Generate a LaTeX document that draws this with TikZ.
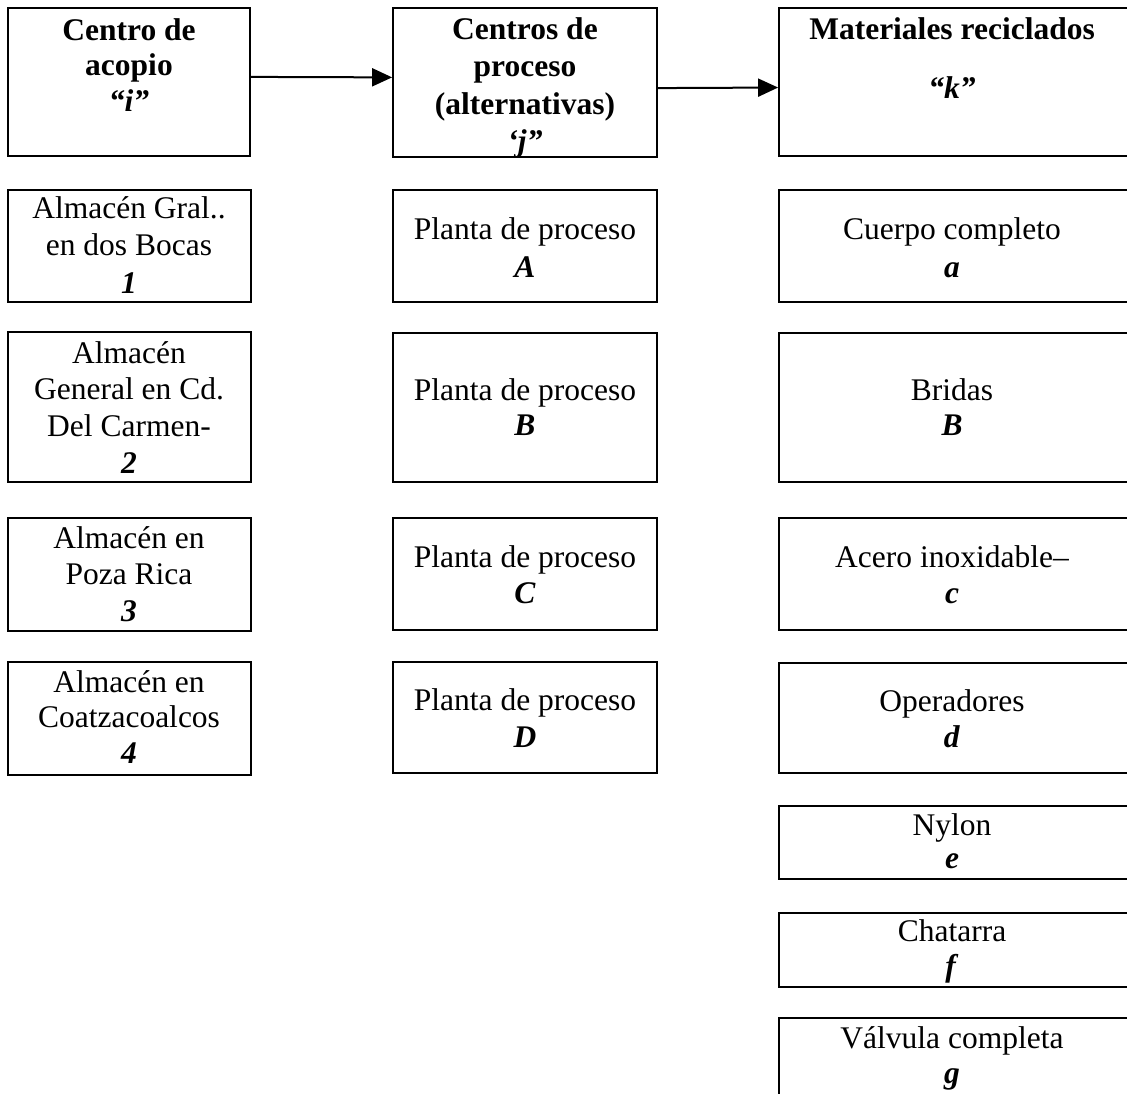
\documentclass[tikz,border=0pt]{standalone}
\usepackage{fontspec}
\setmainfont{Liberation Serif}
\usetikzlibrary{arrows.meta,calc}

\tikzset{
  cell/.style={draw=black, line width=1.8pt, rectangle, inner sep=0pt},
  celltext/.style={anchor=north, align=center, inner sep=0pt, text=black},
  flow/.style={line width=2pt, -{Triangle[length=20pt,width=18pt]}},
}

% #1 name, #2 left, #3 top, #4 right, #5 bottom,
% #6 text centre x, #7 baseline of first line, #8 leading, #9 text
\newcommand\cellbox[9]{%
  \node[cell, minimum width={(#4)-(#2)}, minimum height={(#5)-(#3)}]
    (#1) at ({((#2)+(#4))/2},{((#3)+(#5))/2}) {};
  \node[celltext, font=\fontsize{31.5}{#8}\selectfont]
    (#1-text) at (#6,{(#7)-24}) {\rule{0pt}{24pt}#9};
}

\begin{document}
\begin{tikzpicture}[x=1pt,y=-1pt]
\useasboundingbox (0,0) rectangle (1127,1093);
\clip (0,0) rectangle (1127,1093);
\fill[white] (0,0) rectangle (1127,1093);

% column headers
\cellbox{hi}{8}{8}{250}{156}{129}{40}{35.5}{\textbf{Centro de}\\\textbf{acopio}\\\textbf{\textit{“i”}}}
\cellbox{hj}{393}{8}{657}{157}{525}{39}{37.5}{\textbf{Centros de}\\\textbf{proceso}\\\textbf{(alternativas)}\\\textbf{\textit{‘j”}}}
\cellbox{hk}{779}{8}{1130}{156}{952}{39}{59}{\textbf{Materiales reciclados}\\\textbf{\textit{“k”}}}

% collection centres i
\cellbox{i1}{8}{190}{251}{302}{129}{218}{37.5}{Almacén Gral..\\en dos Bocas\\\textbf{\textit{1}}}
\cellbox{i2}{8}{332}{251}{482}{129}{363}{36.7}{Almacén\\General en Cd.\\Del Carmen-\\\textbf{\textit{2}}}
\cellbox{i3}{8}{518}{251}{631}{129}{548}{36.5}{Almacén en\\Poza Rica\\\textbf{\textit{3}}}
\cellbox{i4}{8}{662}{251}{775}{129}{692}{35.5}{Almacén en\\Coatzacoalcos\\\textbf{\textit{4}}}

% processing plants j
\cellbox{jA}{393}{190}{657}{302}{525}{239}{38}{Planta de proceso\\\textbf{\textit{A}}}
\cellbox{jB}{393}{333}{657}{482}{525}{400}{35}{Planta de proceso\\\textbf{\textit{B}}}
\cellbox{jC}{393}{518}{657}{630}{525}{567}{36}{Planta de proceso\\\textbf{\textit{C}}}
\cellbox{jD}{393}{662}{657}{773}{525}{710}{37}{Planta de proceso\\\textbf{\textit{D}}}

% recycled materials k
\cellbox{ka}{779}{190}{1130}{302}{952}{239}{38}{Cuerpo completo\\\textbf{\textit{a}}}
\cellbox{kb}{779}{333}{1130}{482}{952}{400}{35}{Bridas\\\textbf{\textit{B}}}
\cellbox{kc}{779}{518}{1130}{630}{952}{567}{36}{Acero inoxidable–\\\textbf{\textit{c}}}
\cellbox{kd}{779}{663}{1130}{773}{952}{711}{36}{Operadores\\\textbf{\textit{d}}}
\cellbox{ke}{779}{806}{1130}{879}{952}{835}{33}{Nylon\\\textbf{\textit{e}}}
\cellbox{kf}{779}{913}{1130}{987}{952}{941}{35}{Chatarra\\\textbf{\textit{f}}}
\cellbox{kg}{779}{1018}{1130}{1110}{952}{1048}{35}{Válvula completa\\\textbf{\textit{g}}}

% flow between the headers
\draw[flow] ($(hi.north east)!0.466!(hi.south east)$) -- ($(hj.north west)!0.466!(hj.south west)$);
\draw[flow] ($(hj.north east)!0.537!(hj.south east)$) -- ($(hk.north west)!0.537!(hk.south west)$);
\end{tikzpicture}
\end{document}
